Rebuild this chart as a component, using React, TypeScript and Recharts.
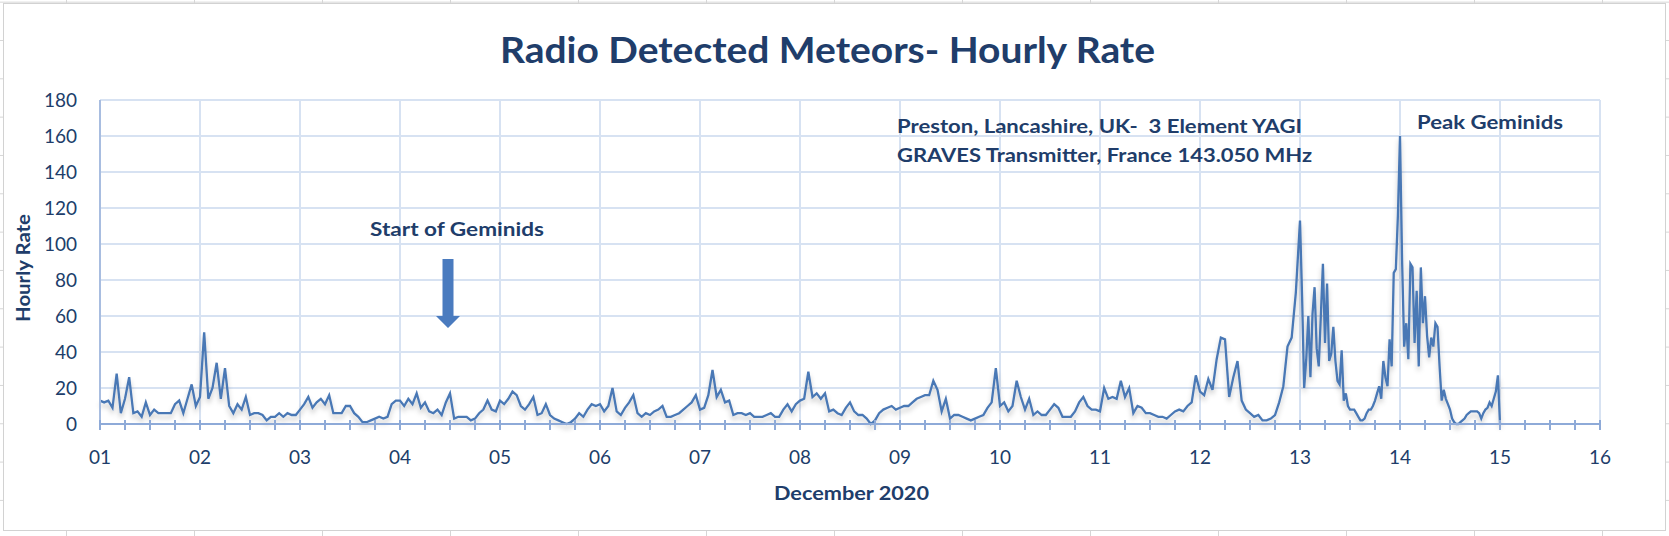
import React from 'react';
import { LineChart, Line, XAxis, YAxis, CartesianGrid } from 'recharts';

// hourly rate per day (Dec 1-12 hourly, Dec 13-14 every half hour)
const dec01 = [13, 12, 13, 9, 28, 6, 14, 26, 6, 7, 4, 12, 5, 8, 6, 6, 6, 6, 11, 13, 6, 14, 22, 10];
const dec02 = [15, 51, 14, 20, 34, 14, 31, 10, 6, 11, 8, 15, 5, 6, 6, 5, 2, 4, 4, 6, 4, 6, 5, 5];
const dec03 = [8, 11, 15, 9, 12, 14, 11, 16, 6, 6, 6, 10, 10, 6, 4, 1, 1, 2, 3, 4, 3, 4, 11, 13];
const dec04 = [13, 10, 14, 11, 17, 9, 12, 7, 6, 8, 5, 12, 17, 3, 4, 4, 4, 2, 3, 6, 8, 13, 8, 7];
const dec05 = [13, 11, 14, 18, 16, 10, 8, 11, 15, 5, 6, 11, 5, 3, 2, 1, 0, 1, 3, 6, 4, 8, 11, 10];
const dec06 = [11, 7, 10, 20, 7, 5, 9, 12, 16, 6, 4, 6, 5, 7, 8, 10, 4, 4, 5, 6, 8, 10, 12, 16];
const dec07 = [8, 9, 16, 30, 15, 19, 12, 13, 5, 6, 6, 5, 6, 4, 4, 4, 5, 6, 4, 4, 8, 11, 7, 11];
const dec08 = [13, 14, 29, 15, 17, 14, 17, 7, 8, 6, 5, 9, 12, 7, 5, 5, 3, 0, 2, 6, 8, 9, 10, 8];
const dec09 = [9, 10, 10, 12, 14, 15, 16, 16, 24, 19, 7, 14, 3, 5, 5, 4, 3, 2, 3, 4, 5, 9, 12, 31];
const dec10 = [10, 12, 7, 10, 24, 15, 8, 14, 5, 7, 5, 5, 8, 11, 9, 4, 4, 4, 7, 12, 15, 10, 8, 8];
const dec11 = [7, 20, 14, 15, 14, 24, 15, 20, 6, 10, 9, 6, 6, 5, 4, 4, 3, 5, 7, 8, 7, 10, 12, 27];
const dec12 = [18, 16, 25, 19, 36, 48, 47, 15, 26, 35, 13, 8, 6, 4, 5, 2, 2, 3, 5, 12, 21, 43, 48, 73];
const dec13 = [
  113, 71, 20, 36, 60, 26, 61, 76, 42, 32, 60, 89, 45, 78, 35, 39, 54, 35, 24, 22, 41, 13, 17, 10,
  8, 8, 8, 6, 4, 2, 2, 3, 6, 8, 8, 10, 13, 17, 21, 14, 35, 26, 21, 47, 32, 84, 86, 116,
];
const dec14 = [
  160, 91, 43, 56, 36, 89, 87, 45, 74, 32, 87, 56, 71, 49, 37, 48, 43, 56, 54, 32, 13, 19, 14, 11,
  8, 3, 1, 0, 0, 1, 2, 3, 5, 6, 7, 7, 7, 7, 6, 3, 6, 8, 9, 12, 10, 14, 18, 27,
];
const dec15 = [0];

const dayValues = [dec01, dec02, dec03, dec04, dec05, dec06, dec07, dec08, dec09, dec10, dec11, dec12, dec13, dec14, dec15];

const dayTicks = [1, 2, 3, 4, 5, 6, 7, 8, 9, 10, 11, 12, 13, 14, 15, 16];
const dayLabels = ['01', '02', '03', '04', '05', '06', '07', '08', '09', '10', '11', '12', '13', '14', '15', '16'];
const rateTicks = [0, 20, 40, 60, 80, 100, 120, 140, 160, 180];

const data: { day: number; rate: number }[] = [];
dayValues.forEach((vals, d) => {
  vals.forEach((v, i) => data.push({ day: dayTicks[d] + i / vals.length, rate: v }));
});

// minor tick every 6 hours
const quarterTicks = dayTicks.flatMap((d) => (d < 16 ? [d, d + 0.25, d + 0.5, d + 0.75] : [d]));

const TEXT = '#203d6a';
const AXIS = '#8eaad8';
const GRID = '#d7e2f2';
const LINE = '#4a78b5';
const FONT = 'Lato, "Open Sans", sans-serif';

const DayTick = (props: any) => {
  const { x, y, payload } = props;
  const v = payload.value;
  const isDay = Number.isInteger(v);
  return (
    <g>
      <line x1={x} x2={x} y1={y - 4} y2={y + 6} stroke={AXIS} strokeWidth={2} />
      {isDay && (
        <text x={x} y={y + 39.5} textAnchor="middle" fontSize={19} fill={TEXT} fontFamily={FONT}>
          {dayLabels[v - 1]}
        </text>
      )}
    </g>
  );
};

const App: React.FC = () => {
  return (
    <div
      style={{
        position: 'fixed',
        left: 0,
        top: 0,
        width: 1669,
        height: 536,
        backgroundColor: '#ffffff',
        backgroundImage:
          'linear-gradient(to right, #d6d6d6 1px, transparent 1px), linear-gradient(to bottom, #d6d6d6 1px, transparent 1px)',
        backgroundSize: '128px 100%, 100% 38.33px',
        backgroundPosition: '66px 0, 0 1.67px',
        fontFamily: FONT,
      }}
    >
      <div
        style={{
          position: 'absolute',
          left: 3,
          top: 3,
          width: 1661,
          height: 526,
          border: '1px solid #d2d2d2',
          background: '#fff',
        }}
      >
        <LineChart width={1661} height={526} data={data} margin={{ top: 96, right: 65, bottom: 0, left: 0 }}>
          <CartesianGrid stroke={GRID} strokeWidth={2} verticalValues={dayTicks} />
          <XAxis
            dataKey="day"
            type="number"
            domain={[1, 16]}
            ticks={quarterTicks}
            interval={0}
            height={106}
            tickSize={0}
            tickMargin={0}
            tickLine={false}
            tick={DayTick}
            axisLine={{ stroke: AXIS, strokeWidth: 2 }}
          />
          <YAxis
            domain={[0, 180]}
            ticks={rateTicks}
            width={96}
            tickSize={0}
            tickMargin={23}
            tickLine={false}
            axisLine={{ stroke: '#a8bde0', strokeWidth: 2 }}
            tick={{ fill: TEXT, fontSize: 19, fontFamily: FONT }}
          />
          <Line
            type="linear"
            dataKey="rate"
            stroke={LINE}
            strokeWidth={2.3}
            dot={false}
            activeDot={false}
            isAnimationActive={false}
            filter="url(#lineShadow)"
          />
        </LineChart>
      </div>
      <svg
        width={1669}
        height={536}
        style={{ position: 'absolute', left: 0, top: 0, pointerEvents: 'none' }}
        fontFamily={FONT}
      >
        <defs>
          <filter id="lineShadow" x="-2%" y="-20%" width="104%" height="150%">
            <feDropShadow dx="0" dy="4" stdDeviation="2.5" floodColor="#000" floodOpacity="0.22" />
          </filter>
        </defs>
        <text x={500} y={63} fontSize={37} fontWeight={700} fill={TEXT} textLength={655} lengthAdjust="spacingAndGlyphs">
          Radio Detected Meteors- Hourly Rate
        </text>
        <text
          x={897}
          y={133}
          fontSize={18.5}
          fontWeight={700}
          fill={TEXT}
          textLength={405}
          lengthAdjust="spacingAndGlyphs"
          xmlSpace="preserve"
        >
          {'Preston, Lancashire, UK-  3 Element YAGI'}
        </text>
        <text x={897} y={162} fontSize={18.5} fontWeight={700} fill={TEXT} textLength={415} lengthAdjust="spacingAndGlyphs">
          GRAVES Transmitter, France 143.050 MHz
        </text>
        <text x={1417} y={129} fontSize={18.5} fontWeight={700} fill={TEXT} textLength={146} lengthAdjust="spacingAndGlyphs">
          Peak Geminids
        </text>
        <text x={370} y={236} fontSize={18.5} fontWeight={700} fill={TEXT} textLength={174} lengthAdjust="spacingAndGlyphs">
          Start of Geminids
        </text>
        <path d="M442.5,259 L453.5,259 L453.5,316 L460,316 L448,328 L436,316 L442.5,316 Z" fill="#4a7bbf" />
        <text x={774} y={500} fontSize={18.5} fontWeight={700} fill={TEXT} textLength={155} lengthAdjust="spacingAndGlyphs">
          December 2020
        </text>
        <text
          x={30}
          y={268}
          fontSize={18.5}
          fontWeight={700}
          fill={TEXT}
          textAnchor="middle"
          textLength={108}
          lengthAdjust="spacingAndGlyphs"
          transform="rotate(-90, 30, 268)"
        >
          Hourly Rate
        </text>
      </svg>
    </div>
  );
};

export default App;
